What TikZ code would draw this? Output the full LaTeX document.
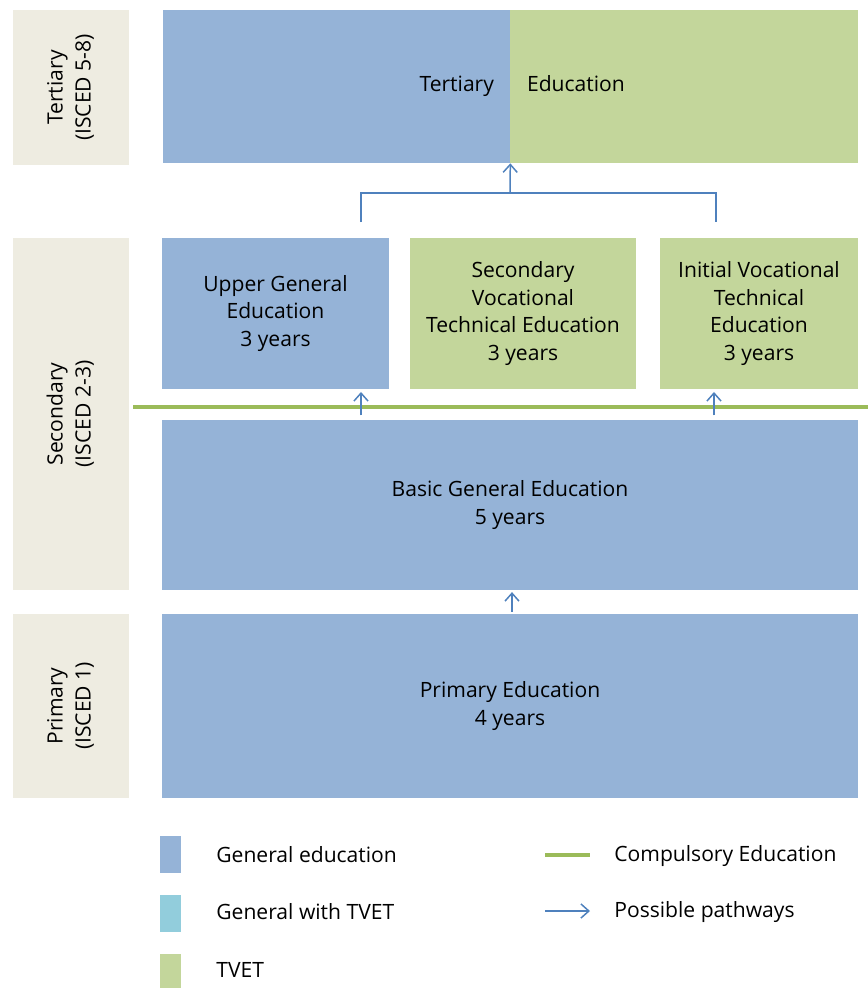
\documentclass[tikz,border=0pt]{standalone}
\usepackage{fontspec}
\setmainfont{Open Sans}
\usetikzlibrary{arrows.meta}

\definecolor{genblue}{HTML}{95B3D7}
\definecolor{tvetgreen}{HTML}{C3D69B}
\definecolor{mixblue}{HTML}{92CDDC}
\definecolor{levelgrey}{HTML}{EEECE1}
\definecolor{compgreen}{HTML}{9BBB59}
\definecolor{pathblue}{HTML}{4F81BD}

\tikzset{
  edu/.style={inner sep=0pt, align=center, font=\fontsize{12}{15.9}\selectfont},
  gen/.style={edu, fill=genblue},
  tvet/.style={edu, fill=tvetgreen},
  level/.style={edu, fill=levelgrey, minimum width=2.32cm},
  lab/.style={font=\fontsize{12}{15.9}\selectfont, inner sep=0pt},
  pathway/.style={draw=pathblue, line width=0.85pt},
  arr/.style={pathway, -{Straight Barb[length=4.5pt,width=8pt]}}
}

\begin{document}
\begin{tikzpicture}[x=0.02cm,y=-0.02cm]
\useasboundingbox (0,0) rectangle (868,988);

% levels on the left
\node[level, minimum height=3.10cm] (tertlab) at (71,87.5) {\rotatebox{90}{\begin{tabular}{@{}c@{}}Tertiary\\(ISCED 5-8)\end{tabular}}};
\node[level, minimum height=7.04cm] (seclab) at (71,414) {\rotatebox{90}{\begin{tabular}{@{}c@{}}Secondary\\(ISCED 2-3)\end{tabular}}};
\node[level, minimum height=3.68cm] (primlab) at (71,706) {\rotatebox{90}{\begin{tabular}{@{}c@{}}Primary\\(ISCED 1)\end{tabular}}};

% tertiary
\node[gen, minimum width=6.94cm, minimum height=3.06cm] (tertgen) at (336.5,86.5) {};
\node[tvet, minimum width=6.96cm, minimum height=3.06cm] (terttvet) at (684,86.5) {};
\node[lab, anchor=base east] (terttxt1) at ([xshift=-0.32cm,yshift=-0.09cm]tertgen.east) {Tertiary};
\node[lab, anchor=base west] (terttxt2) at ([xshift=0.34cm,yshift=-0.09cm]terttvet.west) {Education};

% secondary
\node[gen, minimum width=4.54cm, minimum height=3.02cm] (upper) at (275.5,313.5) {Upper General\\Education\\3 years};
\node[tvet, minimum width=4.52cm, minimum height=3.02cm] (secvoc) at (523,313.5) {Secondary\\Vocational\\Technical Education\\3 years};
\node[tvet, minimum width=3.96cm, minimum height=3.02cm] (initial) at (759,313.5) {Initial Vocational\\Technical\\Education\\3 years};
\node[gen, minimum width=13.92cm, minimum height=3.40cm] (basic) at (510,505) {Basic General Education\\5 years};

% primary
\node[gen, minimum width=13.92cm, minimum height=3.68cm] (primary) at (510,706) {Primary Education\\4 years};

% compulsory education
\draw[compgreen, line width=2.8pt] (133,407) -- (868,407);

% pathways
\coordinate (upperout) at (361,222);
\coordinate (initout) at (716,222);
\coordinate (join) at (510,193);
\draw[pathway] (upperout) |- (join) -| (initout);
\draw[arr] (join) -- (tertgen.south east);
\draw[arr, shorten <=2.5pt, shorten >=1.5pt] (basic.north -| upperout) -- (upper.south -| upperout);
\draw[arr, shorten <=2.5pt, shorten >=1.5pt] (basic.north -| 714,0) -- (initial.south -| 714,0);
\draw[arr, shorten <=1pt, shorten >=1pt] (primary.north -| 512,0) -- (basic.south -| 512,0);

% legend
\node[fill=genblue, minimum width=0.42cm, minimum height=0.74cm, inner sep=0pt] (keygen) at (170.5,854.5) {};
\node[fill=mixblue, minimum width=0.42cm, minimum height=0.74cm, inner sep=0pt] (keymix) at (170.5,913.5) {};
\node[fill=tvetgreen, minimum width=0.42cm, minimum height=0.74cm, inner sep=0pt] (keytvet) at (170.5,972.5) {};
\node[lab, anchor=west] (keygentxt) at (216,855) {General education};
\node[lab, anchor=west] (keymixtxt) at (216,912) {General with TVET};
\node[lab, anchor=west] (keytvettxt) at (216,970) {TVET};
\coordinate (compa) at (545,855);
\coordinate (compb) at (590,855);
\draw[compgreen, line width=2.8pt] (compa) -- (compb);
\node[lab, anchor=west] (comptxt) at (614,856) {Compulsory Education};
\coordinate (patha) at (545,911);
\coordinate (pathb) at (590,911);
\draw[arr] (patha) -- (pathb);
\node[lab, anchor=west] (pathtxt) at (614,912) {Possible pathways};
\end{tikzpicture}
\end{document}
